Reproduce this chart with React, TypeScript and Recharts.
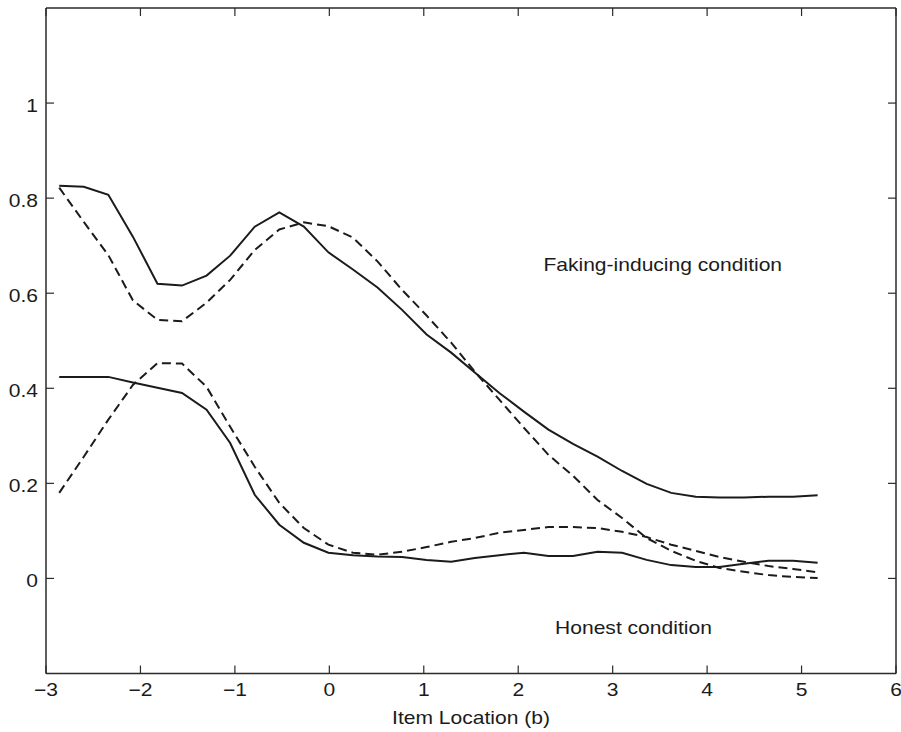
import { LineChart, Line, XAxis, YAxis, ReferenceDot } from "recharts";

// item locations (b) where the curves were evaluated
const xs = [
  -2.86, -2.6, -2.34, -2.08, -1.82, -1.56, -1.3, -1.05, -0.79, -0.53, -0.27,
  -0.01, 0.25, 0.51, 0.77, 1.03, 1.29, 1.54, 1.8, 2.06, 2.32, 2.58, 2.84, 3.1,
  3.36, 3.62, 3.88, 4.13, 4.39, 4.65, 4.91, 5.17,
];

// faking-inducing condition
const fakingSolid = [
  0.826, 0.824, 0.807, 0.719, 0.62, 0.616, 0.637, 0.679, 0.74, 0.77, 0.74,
  0.686, 0.65, 0.612, 0.565, 0.513, 0.475, 0.433, 0.39, 0.351, 0.313, 0.283,
  0.256, 0.226, 0.199, 0.18, 0.172, 0.17, 0.17, 0.172, 0.172, 0.175,
];
const fakingDashed = [
  0.822, 0.75, 0.68, 0.585, 0.544, 0.541, 0.58, 0.628, 0.691, 0.734, 0.749,
  0.741, 0.717, 0.667, 0.607, 0.553, 0.496, 0.435, 0.376, 0.317, 0.26, 0.216,
  0.165, 0.127, 0.085, 0.058, 0.037, 0.022, 0.014, 0.007, 0.003, 0.001,
];

// honest condition
const honestSolid = [
  0.424, 0.424, 0.424, 0.412, 0.401, 0.39, 0.355, 0.285, 0.176, 0.113, 0.075,
  0.054, 0.049, 0.046, 0.045, 0.039, 0.035, 0.043, 0.049, 0.054, 0.047, 0.047,
  0.056, 0.054, 0.039, 0.028, 0.024, 0.024, 0.031, 0.037, 0.037, 0.033,
];
const honestDashed = [
  0.18, 0.256, 0.334, 0.407, 0.453, 0.452, 0.403, 0.319, 0.235, 0.159, 0.106,
  0.071, 0.054, 0.05, 0.056, 0.066, 0.077, 0.085, 0.096, 0.102, 0.108, 0.108,
  0.106, 0.098, 0.087, 0.071, 0.058, 0.045, 0.035, 0.026, 0.02, 0.013,
];

const xTicks = [-3, -2, -1, 0, 1, 2, 3, 4, 5, 6];
const yTicks = [0, 0.2, 0.4, 0.6, 0.8, 1];

const data = xs.map((x, i) => ({
  x,
  fakingSolid: fakingSolid[i],
  fakingDashed: fakingDashed[i],
  honestSolid: honestSolid[i],
  honestDashed: honestDashed[i],
}));

const FONT = "'Liberation Sans', Arial, Helvetica, sans-serif";
const INK = "#1b1b1b";
const FRAME = "#2a2a2a";
const STRETCH = 1.17; // the original figure's text is a bit wide

const fmt = (v: number) => String(v).replace("-", "\u2212");

function WideText({ x, y, anchor, size = 18, children }: any) {
  return (
    <text
      transform={`translate(${x},${y}) scale(${STRETCH},1)`}
      textAnchor={anchor}
      fontFamily={FONT}
      fontSize={size}
      fill={INK}
    >
      {children}
    </text>
  );
}

const BottomTick = (p: any) => (
  <WideText x={p.x} y={p.y} anchor="middle">
    {fmt(p.payload.value)}
  </WideText>
);

const LeftTick = (p: any) => (
  <WideText x={p.x} y={p.y + 9} anchor="end">
    {fmt(p.payload.value)}
  </WideText>
);

const NoTick = () => <g />;

const axisLine = { stroke: FRAME, strokeWidth: 1.5 };
const tickLine = { stroke: FRAME, strokeWidth: 1.2 };

export default function App() {
  return (
    <div
      style={{
        position: "absolute",
        left: 0,
        top: 0,
        width: 901,
        height: 732,
        background: "#fff",
      }}
    >
      <LineChart
        width={901}
        height={732}
        data={data}
        margin={{ top: 7, right: 4, bottom: 0, left: 0 }}
      >
        <XAxis
          dataKey="x"
          type="number"
          domain={[-3, 6]}
          ticks={xTicks}
          allowDataOverflow
          height={58.5}
          axisLine={axisLine}
          tickLine={tickLine}
          tickSize={-8}
          tickMargin={30.5}
          tick={BottomTick}
          label={{
            content: (p: any) => {
              const vb = p.viewBox;
              return (
                <WideText x={vb.x + vb.width / 2} y={724} anchor="middle">
                  Item Location (b)
                </WideText>
              );
            },
          }}
        />
        <XAxis
          xAxisId="top"
          orientation="top"
          dataKey="x"
          type="number"
          domain={[-3, 6]}
          ticks={xTicks}
          allowDataOverflow
          height={1}
          axisLine={axisLine}
          tickLine={tickLine}
          tickSize={-8}
          tick={NoTick}
        />
        <YAxis
          type="number"
          domain={[-0.2, 1.2]}
          ticks={yTicks}
          allowDataOverflow
          width={46}
          axisLine={axisLine}
          tickLine={tickLine}
          tickSize={-8}
          tickMargin={16}
          tick={LeftTick}
        />
        <YAxis
          yAxisId="right"
          orientation="right"
          type="number"
          domain={[-0.2, 1.2]}
          ticks={yTicks}
          allowDataOverflow
          width={1}
          axisLine={axisLine}
          tickLine={tickLine}
          tickSize={-8}
          tick={NoTick}
        />

        <Line
          type="linear"
          dataKey="fakingSolid"
          stroke={INK}
          strokeWidth={2}
          dot={false}
          isAnimationActive={false}
        />
        <Line
          type="linear"
          dataKey="fakingDashed"
          stroke={INK}
          strokeWidth={2}
          strokeDasharray="9 5"
          dot={false}
          isAnimationActive={false}
        />
        <Line
          type="linear"
          dataKey="honestSolid"
          stroke={INK}
          strokeWidth={2}
          dot={false}
          isAnimationActive={false}
        />
        <Line
          type="linear"
          dataKey="honestDashed"
          stroke={INK}
          strokeWidth={2}
          strokeDasharray="9 5"
          dot={false}
          isAnimationActive={false}
        />

        <ReferenceDot
          x={3.53}
          y={0.646}
          r={1}
          shape={(p: any) => (
            <WideText x={p.cx} y={p.cy} anchor="middle">
              Faking-inducing condition
            </WideText>
          )}
        />
        <ReferenceDot
          x={3.22}
          y={-0.117}
          r={1}
          shape={(p: any) => (
            <WideText x={p.cx} y={p.cy} anchor="middle">
              Honest condition
            </WideText>
          )}
        />
      </LineChart>
    </div>
  );
}
